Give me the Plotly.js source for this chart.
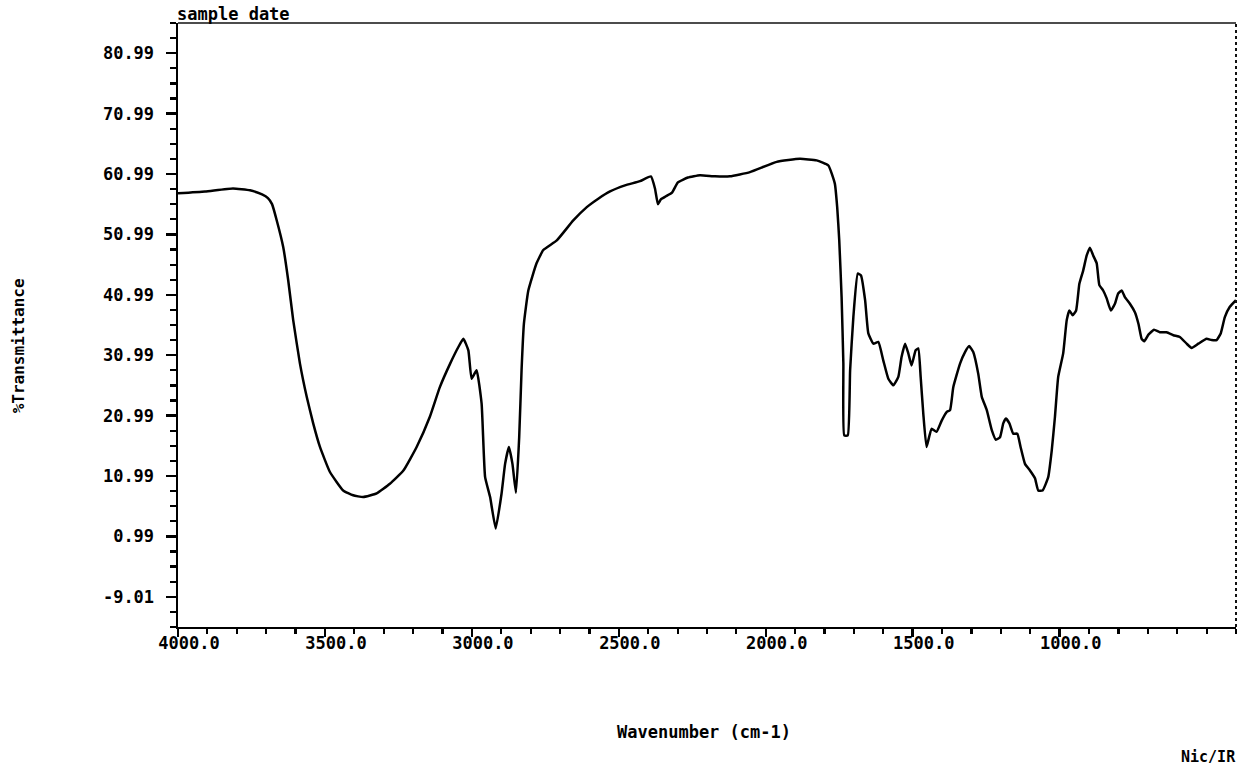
<!DOCTYPE html>
<html>
<head>
<meta charset="utf-8">
<script src="https://cdn.plot.ly/plotly-3.0.1.min.js"></script>
<style>html,body{margin:0;padding:0;background:#fff;}#chart{width:1245px;height:769px;}</style>
</head>
<body>
<div id="chart"></div>
<script>
// ---- Data ----
const wavenumber = [4000,3908,3813,3755,3714,3694,3680,3664,3642,3625,3608,3585,3562,3540,3517,3483,3438,3404,3370,3324,3279,3233,3188,3143,3109,3074,3046,3029,3012,3001,2984,2967,2955,2938,2919,2899,2887,2874,2862,2850,2839,2831,2823,2808,2780,2757,2711,2655,2609,2570,2530,2479,2428,2391,2377,2367,2357,2340,2319,2299,2265,2224,2173,2122,2054,1963,1884,1827,1787,1765,1757,1750,1742,1736,1733,1721,1713,1702,1687,1676,1662,1651,1634,1617,1600,1583,1566,1549,1538,1526,1515,1504,1490,1481,1473,1464,1453,1436,1419,1401,1384,1373,1362,1339,1322,1308,1294,1277,1265,1248,1231,1217,1203,1192,1183,1171,1158,1144,1133,1118,1101,1084,1073,1058,1039,1027,1016,1005,988,976,967,956,944,933,920,908,897,886,874,865,852,840,826,812,801,789,778,761,744,732,721,712,698,679,659,636,613,591,568,551,528,500,483,466,452,438,421,400];
const transmittance = [57.8,58.1,58.6,58.3,57.6,57.0,56.0,53.3,48.9,43.4,36.8,29.6,24.1,19.7,15.8,11.65,8.6,7.8,7.5,8.1,9.7,11.9,15.8,20.8,25.7,29.6,32.35,33.7,31.8,27.1,28.5,23.0,10.8,7.5,2.3,8.1,13.0,15.8,13.0,8.2,17.45,28.5,36.2,41.7,46.2,48.4,50.0,53.3,55.5,56.9,58.1,59.1,59.8,60.6,58.6,56.0,56.8,57.3,57.9,59.6,60.4,60.8,60.6,60.6,61.3,63.0,63.5,63.25,62.4,59.4,55.5,50.0,40.6,29.6,17.7,17.7,28.5,37.3,44.5,44.2,40.1,34.6,32.9,33.2,30.1,27.1,26.0,27.4,30.7,32.9,31.3,29.3,31.8,32.1,27.4,21.3,15.8,18.8,18.3,20.2,21.6,21.9,25.7,29.6,31.5,32.5,31.5,27.9,24.1,21.9,18.6,17.0,17.4,19.7,20.5,19.7,18.0,18.0,15.8,13.0,11.9,10.6,8.6,8.6,10.8,15.2,20.8,27.4,31.3,36.8,38.4,37.6,38.4,42.8,45.0,47.5,48.8,47.5,46.2,42.6,41.7,40.4,38.4,39.5,41.2,41.7,40.6,39.5,38.1,36.2,33.7,33.3,34.4,35.2,34.8,34.8,34.3,34.0,32.9,32.2,32.9,33.7,33.5,33.5,34.6,37.3,39.0,40.1];

const xTickVals = [4000, 3500, 3000, 2500, 2000, 1500, 1000];
const xTickText = ['4000.0', '3500.0', '3000.0', '2500.0', '2000.0', '1500.0', '1000.0'];
const yTickVals = [-9.01, 0.99, 10.99, 20.99, 30.99, 40.99, 50.99, 60.99, 70.99, 80.99];
const yTickText = ['-9.01', '0.99', '10.99', '20.99', '30.99', '40.99', '50.99', '60.99', '70.99', '80.99'];
const xRange = [4000, 400];
const yRange = [-14.01, 85.99];

// minor tick positions
const xMinor = [];
for (let v = 4000; v >= 400; v -= 100) xMinor.push(v);
const yMinor = [];
for (let k = 0; k <= 40; k++) yMinor.push(+(-14.01 + 2.5 * k).toFixed(2));

const monoFont = {family: 'DejaVu Sans Mono, monospace', size: 17, color: '#000', weight: 'bold'};

const trace = {
  x: wavenumber,
  y: transmittance,
  type: 'scatter',
  mode: 'lines',
  line: {color: '#000', width: 2.5, shape: 'spline', smoothing: 0.4},
  hoverinfo: 'x+y'
};

const layout = {
  width: 1245,
  height: 769,
  margin: {l: 178, r: 9, t: 23, b: 142, pad: 0},
  paper_bgcolor: '#fff',
  plot_bgcolor: '#fff',
  showlegend: false,
  xaxis: {
    range: xRange,
    tickmode: 'array',
    tickvals: xTickVals,
    ticktext: xTickText,
    ticks: 'outside',
    ticklen: 8,
    tickwidth: 2.5,
    tickcolor: '#000',
    showline: true,
    linewidth: 2.2,
    linecolor: '#000',
    showgrid: false,
    zeroline: false,
    tickfont: monoFont,
    ticklabelstandoff: -9,
    ticklabelshift: -11,
    minor: {tickmode: 'array', tickvals: xMinor, ticks: 'outside', ticklen: 5, tickwidth: 2.2, tickcolor: '#000', showgrid: false}
  },
  yaxis: {
    range: yRange,
    tickmode: 'array',
    tickvals: yTickVals,
    ticktext: yTickText,
    ticks: 'outside',
    ticklen: 10,
    tickwidth: 2.5,
    tickcolor: '#000',
    showline: true,
    linewidth: 2.5,
    linecolor: '#000',
    showgrid: false,
    zeroline: false,
    tickfont: monoFont,
    ticklabelstandoff: 8,
    minor: {tickmode: 'array', tickvals: yMinor, ticks: 'outside', ticklen: 6, tickwidth: 2.2, tickcolor: '#000', showgrid: false}
  },
  shapes: [
    {type: 'line', xref: 'paper', yref: 'paper', x0: 0, x1: 1, y0: 1, y1: 1, line: {color: '#111', width: 1.4}},
    {type: 'line', xref: 'paper', yref: 'paper', x0: 1, x1: 1, y0: 0, y1: 1, line: {color: '#111', width: 2, dash: 'dot'}}
  ],
  annotations: [
    {text: 'sample date', xref: 'paper', yref: 'paper', x: 0, y: 1, xanchor: 'left', yanchor: 'bottom', xshift: -3, yshift: -3, showarrow: false, font: {family: 'DejaVu Sans Mono, monospace', size: 17, color: '#000', weight: 'bold'}},
    {text: '%Transmittance', xref: 'paper', yref: 'paper', x: (18 - 178) / 1058, y: (626.7 - 346) / 604, xanchor: 'center', yanchor: 'middle', textangle: -90, showarrow: false, font: {family: 'DejaVu Sans Mono, monospace', size: 16, color: '#000', weight: 'bold'}},
    {text: 'Wavenumber (cm-1)', xref: 'paper', yref: 'paper', x: (704 - 178) / 1058, y: (626.7 - 732) / 604, xanchor: 'center', yanchor: 'middle', showarrow: false, font: {family: 'DejaVu Sans Mono, monospace', size: 17, color: '#000', weight: 'bold'}},
    {text: 'Nic/IR', xref: 'paper', yref: 'paper', x: (1238 - 178) / 1058, y: (626.7 - 757) / 604, xanchor: 'right', yanchor: 'middle', showarrow: false, font: {family: 'DejaVu Sans Mono, monospace', size: 15, color: '#000', weight: 'bold'}}
  ]
};

Plotly.newPlot('chart', [trace], layout, {displayModeBar: false, staticPlot: true});
</script>
</body>
</html>
